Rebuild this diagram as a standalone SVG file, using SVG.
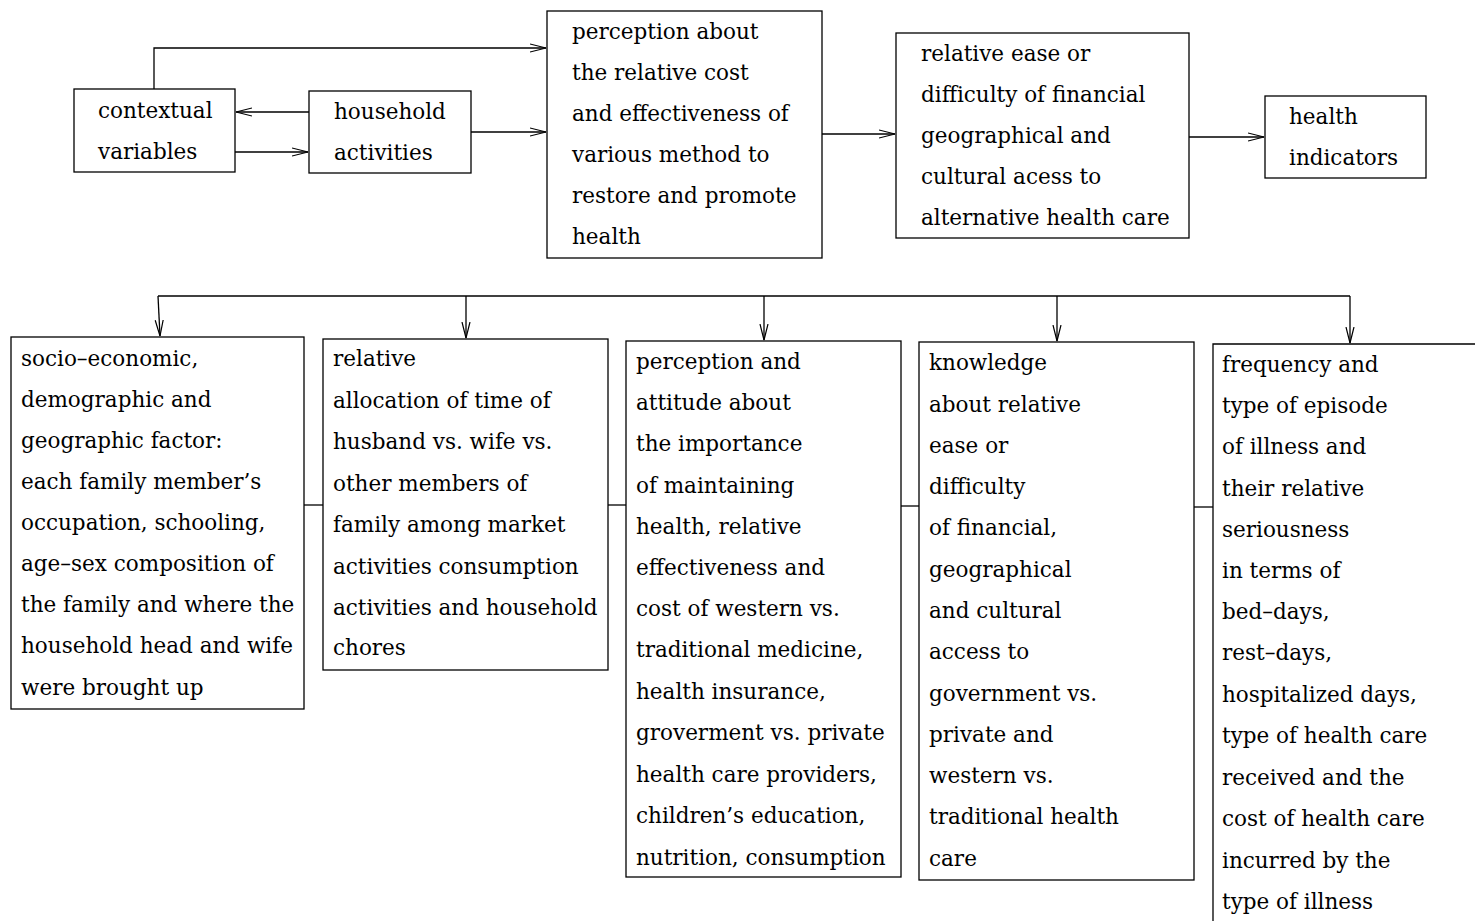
<svg xmlns="http://www.w3.org/2000/svg" width="1475" height="921" viewBox="0 0 1475 921">
<style>
.box{fill:#fff;stroke:#000;stroke-width:1.3}
.t{font-family:"DejaVu Serif","Liberation Serif",serif;font-size:21.5px;fill:#000}
.c{fill:none;stroke:#000;stroke-width:1.3}
</style>
<defs>
<marker id="a" markerUnits="userSpaceOnUse" markerWidth="18" markerHeight="12" refX="16" refY="5" orient="auto">
<path d="M0,1 L16,5 L0,9" fill="none" stroke="#000" stroke-width="1.2"/>
</marker>
</defs>
<rect width="1475" height="921" fill="#fff"/>
<g id="connectors">
<path class="c" d="M154,89 V48 H546" marker-end="url(#a)"/>
<path class="c" d="M309,112 H236" marker-end="url(#a)"/>
<path class="c" d="M235,152 H308" marker-end="url(#a)"/>
<path class="c" d="M471,132 H546" marker-end="url(#a)"/>
<path class="c" d="M822,134 H895" marker-end="url(#a)"/>
<path class="c" d="M1189,137 H1264" marker-end="url(#a)"/>
<path class="c" d="M158,296 H1350"/>
<path class="c" d="M158,296 L160,336" marker-end="url(#a)"/>
<path class="c" d="M466,296 V338" marker-end="url(#a)"/>
<path class="c" d="M764,296 V340" marker-end="url(#a)"/>
<path class="c" d="M1057,296 V341" marker-end="url(#a)"/>
<path class="c" d="M1350,296 V343" marker-end="url(#a)"/>
<path class="c" d="M304,505 H323"/>
<path class="c" d="M608,505 H626"/>
<path class="c" d="M901,506 H919"/>
<path class="c" d="M1194,507 H1213"/>
</g>
<g id="contextual">
<rect class="box" x="74" y="89" width="161" height="83"/>
<text class="t"><tspan x="98" y="118">contextual</tspan><tspan x="98" y="159">variables</tspan></text>
</g>
<g id="household">
<rect class="box" x="309" y="91" width="162" height="82"/>
<text class="t"><tspan x="334" y="119">household</tspan><tspan x="334" y="160">activities</tspan></text>
</g>
<g id="perception">
<rect class="box" x="547" y="11" width="275" height="247"/>
<text class="t"><tspan x="572" y="39">perception about</tspan><tspan x="572" y="80">the relative cost</tspan><tspan x="572" y="121">and effectiveness of</tspan><tspan x="572" y="162">various method to</tspan><tspan x="572" y="203">restore and promote</tspan><tspan x="572" y="244">health</tspan></text>
</g>
<g id="ease">
<rect class="box" x="896" y="33" width="293" height="205"/>
<text class="t"><tspan x="921" y="61">relative ease or</tspan><tspan x="921" y="102">difficulty of financial</tspan><tspan x="921" y="143">geographical and</tspan><tspan x="921" y="184">cultural acess to</tspan><tspan x="921" y="225">alternative health care</tspan></text>
</g>
<g id="indicators">
<rect class="box" x="1265" y="96" width="161" height="82"/>
<text class="t"><tspan x="1289" y="124">health</tspan><tspan x="1289" y="165">indicators</tspan></text>
</g>
<g id="socio">
<rect class="box" x="11" y="337" width="293" height="372"/>
<text class="t"><tspan x="21" y="366">socio–economic,</tspan><tspan x="21" y="407">demographic and</tspan><tspan x="21" y="448">geographic factor:</tspan><tspan x="21" y="489">each family member’s</tspan><tspan x="21" y="530">occupation, schooling,</tspan><tspan x="21" y="571">age–sex composition of</tspan><tspan x="21" y="612">the family and where the</tspan><tspan x="21" y="653">household head and wife</tspan><tspan x="21" y="695">were brought up</tspan></text>
</g>
<g id="allocation">
<rect class="box" x="323" y="339" width="285" height="331"/>
<text class="t"><tspan x="333" y="366">relative</tspan><tspan x="333" y="408">allocation of time of</tspan><tspan x="333" y="449">husband vs. wife vs.</tspan><tspan x="333" y="491">other members of</tspan><tspan x="333" y="532">family among market</tspan><tspan x="333" y="574">activities consumption</tspan><tspan x="333" y="615">activities and household</tspan><tspan x="333" y="655">chores</tspan></text>
</g>
<g id="attitude">
<rect class="box" x="626" y="341" width="275" height="536"/>
<text class="t"><tspan x="636" y="369">perception and</tspan><tspan x="636" y="410">attitude about</tspan><tspan x="636" y="451">the importance</tspan><tspan x="636" y="493">of maintaining</tspan><tspan x="636" y="534">health, relative</tspan><tspan x="636" y="575">effectiveness and</tspan><tspan x="636" y="616">cost of western vs.</tspan><tspan x="636" y="657">traditional medicine,</tspan><tspan x="636" y="699">health insurance,</tspan><tspan x="636" y="740">groverment vs. private</tspan><tspan x="636" y="782">health care providers,</tspan><tspan x="636" y="823">children’s education,</tspan><tspan x="636" y="865">nutrition, consumption</tspan></text>
</g>
<g id="knowledge">
<rect class="box" x="919" y="342" width="275" height="538"/>
<text class="t"><tspan x="929" y="370">knowledge</tspan><tspan x="929" y="412">about relative</tspan><tspan x="929" y="453">ease or</tspan><tspan x="929" y="494">difficulty</tspan><tspan x="929" y="535">of financial,</tspan><tspan x="929" y="577">geographical</tspan><tspan x="929" y="618">and cultural</tspan><tspan x="929" y="659">access to</tspan><tspan x="929" y="701">government vs.</tspan><tspan x="929" y="742">private and</tspan><tspan x="929" y="783">western vs.</tspan><tspan x="929" y="824">traditional health</tspan><tspan x="929" y="866">care</tspan></text>
</g>
<g id="frequency">
<path class="c" d="M1213,921 V344 H1475"/>
<text class="t"><tspan x="1222" y="372">frequency and</tspan><tspan x="1222" y="413">type of episode</tspan><tspan x="1222" y="454">of illness and</tspan><tspan x="1222" y="496">their relative</tspan><tspan x="1222" y="537">seriousness</tspan><tspan x="1222" y="578">in terms of</tspan><tspan x="1222" y="619">bed–days,</tspan><tspan x="1222" y="660">rest–days,</tspan><tspan x="1222" y="702">hospitalized days,</tspan><tspan x="1222" y="743">type of health care</tspan><tspan x="1222" y="785">received and the</tspan><tspan x="1222" y="826">cost of health care</tspan><tspan x="1222" y="868">incurred by the</tspan><tspan x="1222" y="909">type of illness</tspan></text>
</g>
</svg>
